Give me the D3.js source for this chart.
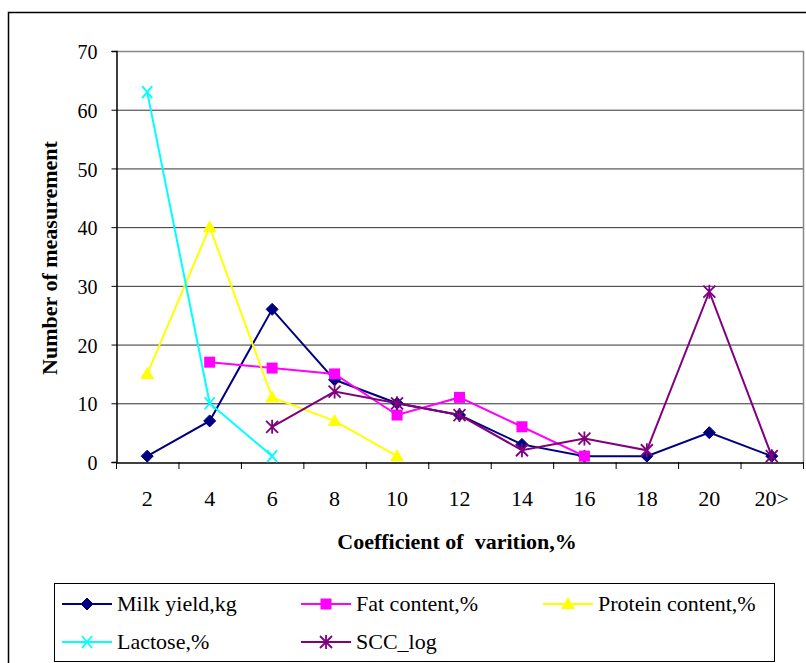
<!DOCTYPE html>
<html><head><meta charset="utf-8">
<script src="https://cdn.jsdelivr.net/npm/d3@7"></script>
<style>body{margin:0;background:#fff}svg{display:block}text{font-family:"Liberation Serif","Times New Roman",serif}</style>
</head><body>
<svg id="c" width="806" height="663"></svg>
<script>
const categories = ["2","4","6","8","10","12","14","16","18","20","20>"];
const milkYield = [1,7,26,14,10,8,3,1,1,5,1];
const fatContent = [null,17,16,15,8,11,6,1,null,null,null];
const proteinContent = [15,40,11,7,1,null,null,null,null,null,null];
const lactose = [63,10,1,null,null,null,null,null,null,null,null];
const sccLog = [null,null,6,12,10,8,2,4,2,29,1];
const yTicks = [0,10,20,30,40,50,60,70];

const series = [
  {name:"Milk yield,kg", values:milkYield, color:"#000080", marker:"diamond"},
  {name:"Fat content,%", values:fatContent, color:"#FF00FF", marker:"square"},
  {name:"Protein content,%", values:proteinContent, color:"#FFFF00", marker:"triangle"},
  {name:"Lactose,%", values:lactose, color:"#00FFFF", marker:"x"},
  {name:"SCC_log", values:sccLog, color:"#800080", marker:"star"}
];

const svg = d3.select("#c");
svg.append("rect").attr("x",8.5).attr("y",12.5).attr("width",820).attr("height",700)
  .attr("fill","none").attr("stroke","#000").attr("stroke-width",1.5);

const L=116, R=803, T=51, B=462;
const x = d3.scaleBand().domain(categories).range([L,R]);
const y = d3.scaleLinear().domain([0,70]).range([B,T]);

svg.append("g").selectAll("line").data(yTicks.filter(d=>d>0&&d<70)).join("line")
  .attr("x1",L).attr("x2",R).attr("y1",d=>y(d)+0.5).attr("y2",d=>y(d)+0.5)
  .attr("stroke","#333").attr("stroke-width",1);
svg.append("path").attr("d",`M${L},${y(70)+0.5}H${R+0.5}V${B}`).attr("fill","none").attr("stroke","#888").attr("stroke-width",1.5);

const ya = d3.axisLeft(y).tickValues(yTicks).tickSize(5).tickPadding(14);
const gy = svg.append("g").attr("transform",`translate(${L+0.5},0)`).call(ya);
gy.select(".domain").attr("stroke","#000").attr("stroke-width",1.5);
gy.selectAll(".tick line").attr("stroke","#000");
gy.selectAll(".tick text").attr("font-size",20).attr("fill","#000").attr("dy","0.38em");

const xa = d3.axisBottom(x).tickSize(0).tickPadding(28);
const gx = svg.append("g").attr("transform",`translate(0,${B+0.5})`).call(xa);
gx.select(".domain").attr("stroke","#000").attr("stroke-width",1.5);
gx.selectAll(".tick text").attr("font-size",22).attr("fill","#000");
const bounds = categories.map(c=>x(c)).concat([R]);
svg.append("g").selectAll("line").data(bounds).join("line")
  .attr("x1",d=>d+0.5).attr("x2",d=>d+0.5).attr("y1",B).attr("y2",B+7).attr("stroke","#000");

svg.append("text").attr("x",457).attr("y",549).attr("text-anchor","middle")
  .attr("font-size",22).attr("font-weight","bold").style("white-space","pre").text("Coefficient of  varition,%");
svg.append("text").attr("transform","translate(57,258) rotate(-90)").attr("text-anchor","middle")
  .attr("font-size",22).attr("font-weight","bold").text("Number of measurement");

function drawMarker(g, type, color, cx, cy){
  const s=6;
  if(type==="diamond"){
    g.append("path").attr("d",`M${cx},${cy-s}L${cx+s},${cy}L${cx},${cy+s}L${cx-s},${cy}Z`).attr("fill",color).attr("stroke",color);
  } else if(type==="square"){
    g.append("rect").attr("x",cx-5.5).attr("y",cy-5.5).attr("width",11).attr("height",11).attr("fill",color);
  } else if(type==="triangle"){
    g.append("path").attr("d",`M${cx},${cy-7}L${cx+7},${cy+5}L${cx-7},${cy+5}Z`).attr("fill",color);
  } else if(type==="x"){
    g.append("path").attr("d",`M${cx-5},${cy-6}L${cx+5},${cy+6}M${cx+5},${cy-6}L${cx-5},${cy+6}`).attr("stroke",color).attr("stroke-width",1.8);
  } else if(type==="star"){
    g.append("path").attr("d",`M${cx-6},${cy-6}L${cx+6},${cy+6}M${cx+6},${cy-6}L${cx-6},${cy+6}M${cx},${cy-7}V${cy+7}`).attr("stroke",color).attr("stroke-width",1.8);
  }
}

const line = d3.line().defined(d=>d.v!=null).x(d=>x(d.c)+x.bandwidth()/2).y(d=>y(d.v));
series.forEach(s=>{
  const pts = categories.map((c,i)=>({c, v:s.values[i]}));
  const g = svg.append("g");
  g.append("path").attr("d",line(pts)).attr("fill","none").attr("stroke",s.color).attr("stroke-width",2);
  pts.filter(p=>p.v!=null).forEach(p=>drawMarker(g,s.marker,s.color,x(p.c)+x.bandwidth()/2,y(p.v)));
});

svg.append("rect").attr("x",54.5).attr("y",583.5).attr("width",720).attr("height",78)
  .attr("fill","#fff").attr("stroke","#000").attr("stroke-width",1);
const legPos = [[62,604],[301,604],[543,604],[62,642],[301,642]];
series.forEach((s,i)=>{
  const [lx,ly]=legPos[i];
  const g = svg.append("g");
  g.append("line").attr("x1",lx).attr("x2",lx+50).attr("y1",ly).attr("y2",ly).attr("stroke",s.color).attr("stroke-width",2);
  drawMarker(g,s.marker,s.color,lx+25,ly);
  g.append("text").attr("x",lx+55).attr("y",ly+7).attr("font-size",22).text(s.name);
});
</script>
</body></html>
